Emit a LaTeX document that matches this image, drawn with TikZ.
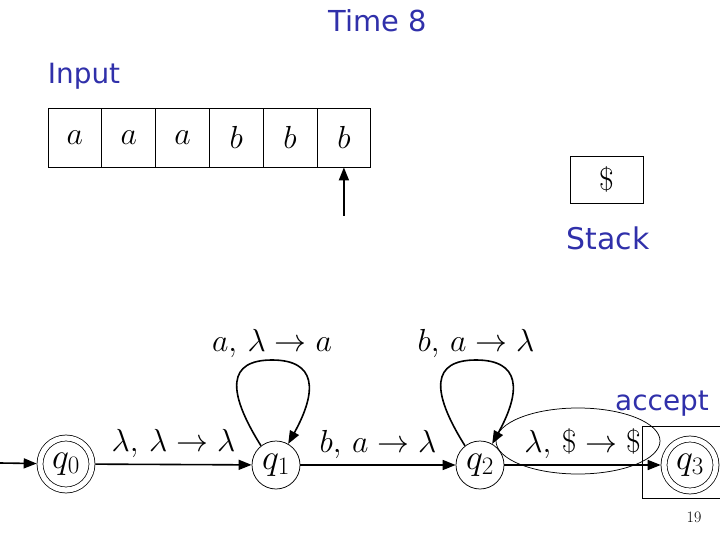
\RequirePackage{fix-cm}
\documentclass[tikz,border=0pt]{standalone}
\usepackage{fontspec}
\usetikzlibrary{arrows.meta,shapes.geometric}
\newfontfamily\notefont{DejaVu Sans}
\definecolor{noteblue}{RGB}{48,48,170}

\begin{document}
\begin{tikzpicture}[
    x=1bp, y=-1bp,
    note/.style      ={font=\notefont, text=noteblue, inner sep=0pt, anchor=base},
    cell/.style      ={draw, line width=0.8bp, minimum width=53.8bp, minimum height=59bp,
                       inner sep=0pt, font=\fontsize{32}{36}\selectfont},
    autostate/.style ={draw, circle, line width=0.75bp, minimum size=48bp, inner sep=0pt,
                       font=\fontsize{36}{40}\selectfont},
    finalstate/.style={autostate, double, double distance=5.2bp, minimum size=52bp, outer sep=3.3bp},
    lbl/.style       ={font=\fontsize{32}{36}\selectfont, inner sep=2bp},
    fl/.style        ={-{Triangle[length=13bp,width=10bp]}, line width=1.6bp}
  ]
  \useasboundingbox (0,0) rectangle (720,540);
  \clip (0,0) rectangle (720,540);

  % --- titles ------------------------------------------------------------
  \node[note, font=\notefont\fontsize{29}{34}\selectfont] (ttl) at (378,32) {Time 8};
  \node[note, font=\notefont\fontsize{28}{34}\selectfont] (inp) at (84,84) {Input};

  % --- input tape ---------------------------------------------------------
  \foreach \s [count=\i] in {a,a,a,b,b,b}
    \node[cell] (c\i) at ({74.9+(\i-1)*53.8},137.5) {$\s$};
  \coordinate (hd) at (c6.south |- 0,216);
  \draw[fl] (hd) -- (c6.south);

  % --- stack --------------------------------------------------------------
  \node[draw, line width=0.8bp, minimum width=73bp, minimum height=47bp,
        font=\fontsize{32}{36}\selectfont] (stk) at (606.5,179.5) {$\$$};
  \node[note, font=\notefont\fontsize{30}{36}\selectfont] (stklbl) at (608,250) {Stack};

  % --- automaton ----------------------------------------------------------
  \node[finalstate] (q0) at (66,464) {$q_0$};
  \node[autostate]  (q1) at (276,465) {$q_1$};
  \node[autostate]  (q2) at (480,465) {$q_2$};
  \node[finalstate] (q3) at (690,465) {$q_3$};

  \node[draw, line width=0.75bp, minimum width=80bp, minimum height=72bp] (accbox) at (682,462) {};
  \node[draw, ellipse, line width=0.75bp, minimum width=164bp, minimum height=66bp, inner sep=0pt]
    (hl) at (578,441) {};
  \node[note, font=\notefont\fontsize{28}{34}\selectfont] (acc) at (662,410) {accept};

  \coordinate (start) at (0,463);
  \draw[fl] (start) -- (q0);
  \draw[fl] (q0) -- (q1) node[lbl, midway, above=4bp] {$\lambda,\,\lambda\to\lambda$};
  \draw[fl] (q1) -- (q2) node[lbl, midway, above=4bp] {$b,\,a\to\lambda$};
  \draw[fl] (q2) -- (q3) node[lbl, midway, above=4bp] {$\lambda,\,\$\to\$$};

  \draw[fl] (q1.128) .. controls (226,390) and (228,360) .. (272,360)
    node[lbl, above] {$a,\,\lambda\to a$} .. controls (316,360) and (318,390) .. (q1.60);
  \draw[fl] (q2.128) .. controls (430,390) and (432,360) .. (476,360)
    node[lbl, above] {$b,\,a\to\lambda$} .. controls (520,360) and (522,390) .. (q2.60);

  \node[font=\fontsize{16}{18}\selectfont] (pg) at (694,517) {19};
\end{tikzpicture}
\end{document}
